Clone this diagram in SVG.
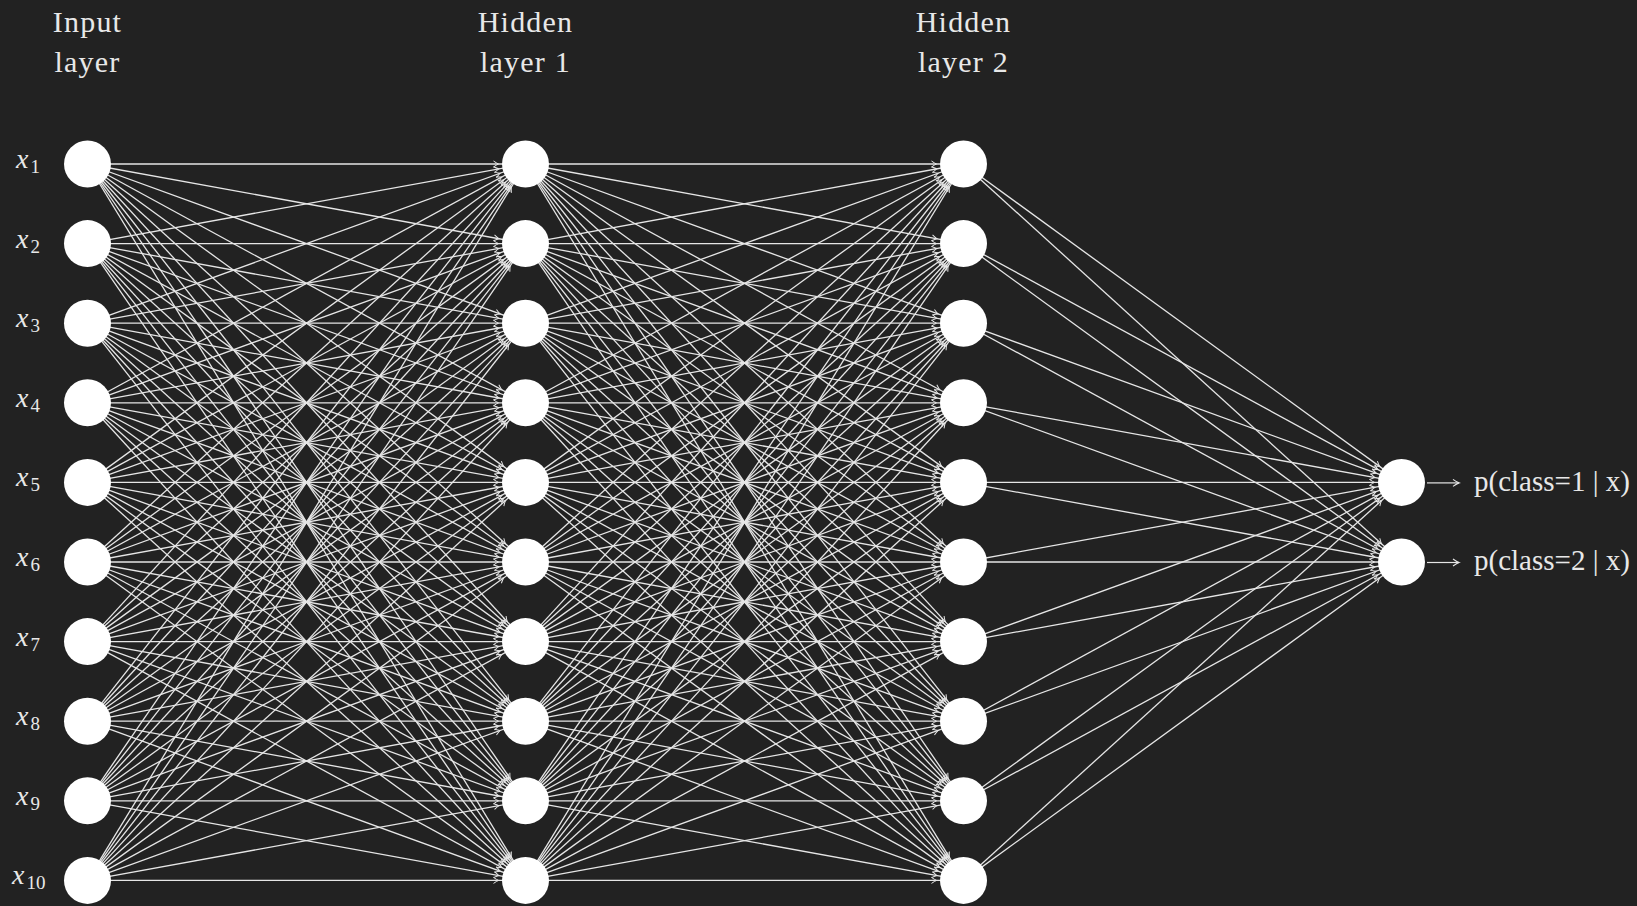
<svg xmlns="http://www.w3.org/2000/svg" xmlns:xlink="http://www.w3.org/1999/xlink" width="1637" height="906" viewBox="0 0 1637 906">
<style>
.bg{fill:#222222}
.node{fill:#ffffff}
.edge{stroke:#e6e6e6;stroke-width:1.3;fill:none;marker-end:url(#tip)}
.lbl{fill:#e8e8e8;font-family:"Liberation Serif","DejaVu Serif",serif;font-size:30px;letter-spacing:1.2px;text-anchor:middle}
.xl{fill:#e8e8e8;font-family:"Liberation Serif","DejaVu Serif",serif;font-size:28px;font-style:italic}
.sub{font-size:19px;font-style:normal}
.out{fill:#e8e8e8;font-family:"Liberation Serif","DejaVu Serif",serif;font-size:29px}
.oarr{stroke:#e6e6e6;stroke-width:1.2;fill:none;marker-end:url(#otip)}
</style>
<defs>
<marker id="tip" markerUnits="userSpaceOnUse" orient="auto" refX="27" refY="0" markerWidth="10" markerHeight="10" overflow="visible">
<path d="M-5,-3 Q-1.5,-0.6 0,0 Q-1.5,0.6 -5,3" fill="none" stroke="#e6e6e6" stroke-width="1"/>
</marker>
<marker id="otip" markerUnits="userSpaceOnUse" orient="auto" refX="0" refY="0" markerWidth="10" markerHeight="10" overflow="visible">
<path d="M-6,-3.5 Q-2,-0.6 0,0 Q-2,0.6 -6,3.5" fill="none" stroke="#e6e6e6" stroke-width="1.1"/>
</marker>
<g id="fan">
<path class="edge" d="M0 164L438 164"/><path class="edge" d="M0 164L438 243.6"/><path class="edge" d="M0 164L438 323.2"/><path class="edge" d="M0 164L438 402.8"/><path class="edge" d="M0 164L438 482.4"/><path class="edge" d="M0 164L438 562"/><path class="edge" d="M0 164L438 641.6"/><path class="edge" d="M0 164L438 721.2"/><path class="edge" d="M0 164L438 800.8"/><path class="edge" d="M0 164L438 880.4"/>
<path class="edge" d="M0 243.6L438 164"/><path class="edge" d="M0 243.6L438 243.6"/><path class="edge" d="M0 243.6L438 323.2"/><path class="edge" d="M0 243.6L438 402.8"/><path class="edge" d="M0 243.6L438 482.4"/><path class="edge" d="M0 243.6L438 562"/><path class="edge" d="M0 243.6L438 641.6"/><path class="edge" d="M0 243.6L438 721.2"/><path class="edge" d="M0 243.6L438 800.8"/><path class="edge" d="M0 243.6L438 880.4"/>
<path class="edge" d="M0 323.2L438 164"/><path class="edge" d="M0 323.2L438 243.6"/><path class="edge" d="M0 323.2L438 323.2"/><path class="edge" d="M0 323.2L438 402.8"/><path class="edge" d="M0 323.2L438 482.4"/><path class="edge" d="M0 323.2L438 562"/><path class="edge" d="M0 323.2L438 641.6"/><path class="edge" d="M0 323.2L438 721.2"/><path class="edge" d="M0 323.2L438 800.8"/><path class="edge" d="M0 323.2L438 880.4"/>
<path class="edge" d="M0 402.8L438 164"/><path class="edge" d="M0 402.8L438 243.6"/><path class="edge" d="M0 402.8L438 323.2"/><path class="edge" d="M0 402.8L438 402.8"/><path class="edge" d="M0 402.8L438 482.4"/><path class="edge" d="M0 402.8L438 562"/><path class="edge" d="M0 402.8L438 641.6"/><path class="edge" d="M0 402.8L438 721.2"/><path class="edge" d="M0 402.8L438 800.8"/><path class="edge" d="M0 402.8L438 880.4"/>
<path class="edge" d="M0 482.4L438 164"/><path class="edge" d="M0 482.4L438 243.6"/><path class="edge" d="M0 482.4L438 323.2"/><path class="edge" d="M0 482.4L438 402.8"/><path class="edge" d="M0 482.4L438 482.4"/><path class="edge" d="M0 482.4L438 562"/><path class="edge" d="M0 482.4L438 641.6"/><path class="edge" d="M0 482.4L438 721.2"/><path class="edge" d="M0 482.4L438 800.8"/><path class="edge" d="M0 482.4L438 880.4"/>
<path class="edge" d="M0 562L438 164"/><path class="edge" d="M0 562L438 243.6"/><path class="edge" d="M0 562L438 323.2"/><path class="edge" d="M0 562L438 402.8"/><path class="edge" d="M0 562L438 482.4"/><path class="edge" d="M0 562L438 562"/><path class="edge" d="M0 562L438 641.6"/><path class="edge" d="M0 562L438 721.2"/><path class="edge" d="M0 562L438 800.8"/><path class="edge" d="M0 562L438 880.4"/>
<path class="edge" d="M0 641.6L438 164"/><path class="edge" d="M0 641.6L438 243.6"/><path class="edge" d="M0 641.6L438 323.2"/><path class="edge" d="M0 641.6L438 402.8"/><path class="edge" d="M0 641.6L438 482.4"/><path class="edge" d="M0 641.6L438 562"/><path class="edge" d="M0 641.6L438 641.6"/><path class="edge" d="M0 641.6L438 721.2"/><path class="edge" d="M0 641.6L438 800.8"/><path class="edge" d="M0 641.6L438 880.4"/>
<path class="edge" d="M0 721.2L438 164"/><path class="edge" d="M0 721.2L438 243.6"/><path class="edge" d="M0 721.2L438 323.2"/><path class="edge" d="M0 721.2L438 402.8"/><path class="edge" d="M0 721.2L438 482.4"/><path class="edge" d="M0 721.2L438 562"/><path class="edge" d="M0 721.2L438 641.6"/><path class="edge" d="M0 721.2L438 721.2"/><path class="edge" d="M0 721.2L438 800.8"/><path class="edge" d="M0 721.2L438 880.4"/>
<path class="edge" d="M0 800.8L438 164"/><path class="edge" d="M0 800.8L438 243.6"/><path class="edge" d="M0 800.8L438 323.2"/><path class="edge" d="M0 800.8L438 402.8"/><path class="edge" d="M0 800.8L438 482.4"/><path class="edge" d="M0 800.8L438 562"/><path class="edge" d="M0 800.8L438 641.6"/><path class="edge" d="M0 800.8L438 721.2"/><path class="edge" d="M0 800.8L438 800.8"/><path class="edge" d="M0 800.8L438 880.4"/>
<path class="edge" d="M0 880.4L438 164"/><path class="edge" d="M0 880.4L438 243.6"/><path class="edge" d="M0 880.4L438 323.2"/><path class="edge" d="M0 880.4L438 402.8"/><path class="edge" d="M0 880.4L438 482.4"/><path class="edge" d="M0 880.4L438 562"/><path class="edge" d="M0 880.4L438 641.6"/><path class="edge" d="M0 880.4L438 721.2"/><path class="edge" d="M0 880.4L438 800.8"/><path class="edge" d="M0 880.4L438 880.4"/>
</g>
</defs>
<rect class="bg" x="0" y="0" width="1637" height="906"/>
<g id="connectors">
<use xlink:href="#fan" href="#fan" transform="translate(87.5,0)"/>
<use xlink:href="#fan" href="#fan" transform="translate(525.5,0)"/>
<g transform="translate(963.5,0)">
<path class="edge" d="M0 164L438 482.4"/><path class="edge" d="M0 243.6L438 482.4"/><path class="edge" d="M0 323.2L438 482.4"/><path class="edge" d="M0 402.8L438 482.4"/><path class="edge" d="M0 482.4L438 482.4"/><path class="edge" d="M0 562L438 482.4"/><path class="edge" d="M0 641.6L438 482.4"/><path class="edge" d="M0 721.2L438 482.4"/><path class="edge" d="M0 800.8L438 482.4"/><path class="edge" d="M0 880.4L438 482.4"/>
<path class="edge" d="M0 164L438 562"/><path class="edge" d="M0 243.6L438 562"/><path class="edge" d="M0 323.2L438 562"/><path class="edge" d="M0 402.8L438 562"/><path class="edge" d="M0 482.4L438 562"/><path class="edge" d="M0 562L438 562"/><path class="edge" d="M0 641.6L438 562"/><path class="edge" d="M0 721.2L438 562"/><path class="edge" d="M0 800.8L438 562"/><path class="edge" d="M0 880.4L438 562"/>
</g>
<path class="oarr" d="M1427 482.9L1459 482.9"/>
<path class="oarr" d="M1427 562.5L1459 562.5"/>
</g>
<g id="labels">
<text class="lbl" x="87.5" y="32">Input</text>
<text class="lbl" x="87.5" y="72">layer</text>
<text class="lbl" x="525.5" y="32">Hidden</text>
<text class="lbl" x="525.5" y="72">layer 1</text>
<text class="lbl" x="963.5" y="32">Hidden</text>
<text class="lbl" x="963.5" y="72">layer 2</text>
</g>
<g id="input-layer">
<g id="in1"><circle class="node" cx="87.5" cy="164" r="23.5"/><text class="xl" x="16" y="168">x<tspan class="sub" dx="2" dy="5">1</tspan></text></g>
<g id="in2"><circle class="node" cx="87.5" cy="243.6" r="23.5"/><text class="xl" x="16" y="247.6">x<tspan class="sub" dx="2" dy="5">2</tspan></text></g>
<g id="in3"><circle class="node" cx="87.5" cy="323.2" r="23.5"/><text class="xl" x="16" y="327.2">x<tspan class="sub" dx="2" dy="5">3</tspan></text></g>
<g id="in4"><circle class="node" cx="87.5" cy="402.8" r="23.5"/><text class="xl" x="16" y="406.8">x<tspan class="sub" dx="2" dy="5">4</tspan></text></g>
<g id="in5"><circle class="node" cx="87.5" cy="482.4" r="23.5"/><text class="xl" x="16" y="486.4">x<tspan class="sub" dx="2" dy="5">5</tspan></text></g>
<g id="in6"><circle class="node" cx="87.5" cy="562" r="23.5"/><text class="xl" x="16" y="566">x<tspan class="sub" dx="2" dy="5">6</tspan></text></g>
<g id="in7"><circle class="node" cx="87.5" cy="641.6" r="23.5"/><text class="xl" x="16" y="645.6">x<tspan class="sub" dx="2" dy="5">7</tspan></text></g>
<g id="in8"><circle class="node" cx="87.5" cy="721.2" r="23.5"/><text class="xl" x="16" y="725.2">x<tspan class="sub" dx="2" dy="5">8</tspan></text></g>
<g id="in9"><circle class="node" cx="87.5" cy="800.8" r="23.5"/><text class="xl" x="16" y="804.8">x<tspan class="sub" dx="2" dy="5">9</tspan></text></g>
<g id="in10"><circle class="node" cx="87.5" cy="880.4" r="23.5"/><text class="xl" x="12" y="884.4">x<tspan class="sub" dx="2" dy="5">10</tspan></text></g>
</g>
<g id="hidden-layer-1">
<circle id="h1n1" class="node" cx="525.5" cy="164" r="23.5"/>
<circle id="h1n2" class="node" cx="525.5" cy="243.6" r="23.5"/>
<circle id="h1n3" class="node" cx="525.5" cy="323.2" r="23.5"/>
<circle id="h1n4" class="node" cx="525.5" cy="402.8" r="23.5"/>
<circle id="h1n5" class="node" cx="525.5" cy="482.4" r="23.5"/>
<circle id="h1n6" class="node" cx="525.5" cy="562" r="23.5"/>
<circle id="h1n7" class="node" cx="525.5" cy="641.6" r="23.5"/>
<circle id="h1n8" class="node" cx="525.5" cy="721.2" r="23.5"/>
<circle id="h1n9" class="node" cx="525.5" cy="800.8" r="23.5"/>
<circle id="h1n10" class="node" cx="525.5" cy="880.4" r="23.5"/>
</g>
<g id="hidden-layer-2">
<circle id="h2n1" class="node" cx="963.5" cy="164" r="23.5"/>
<circle id="h2n2" class="node" cx="963.5" cy="243.6" r="23.5"/>
<circle id="h2n3" class="node" cx="963.5" cy="323.2" r="23.5"/>
<circle id="h2n4" class="node" cx="963.5" cy="402.8" r="23.5"/>
<circle id="h2n5" class="node" cx="963.5" cy="482.4" r="23.5"/>
<circle id="h2n6" class="node" cx="963.5" cy="562" r="23.5"/>
<circle id="h2n7" class="node" cx="963.5" cy="641.6" r="23.5"/>
<circle id="h2n8" class="node" cx="963.5" cy="721.2" r="23.5"/>
<circle id="h2n9" class="node" cx="963.5" cy="800.8" r="23.5"/>
<circle id="h2n10" class="node" cx="963.5" cy="880.4" r="23.5"/>
</g>
<g id="output-layer">
<g id="out1"><circle class="node" cx="1401.5" cy="482.4" r="23.5"/><text class="out" x="1474" y="490.5">p(class=1 | x)</text></g>
<g id="out2"><circle class="node" cx="1401.5" cy="562" r="23.5"/><text class="out" x="1474" y="570">p(class=2 | x)</text></g>
</g>
</svg>
